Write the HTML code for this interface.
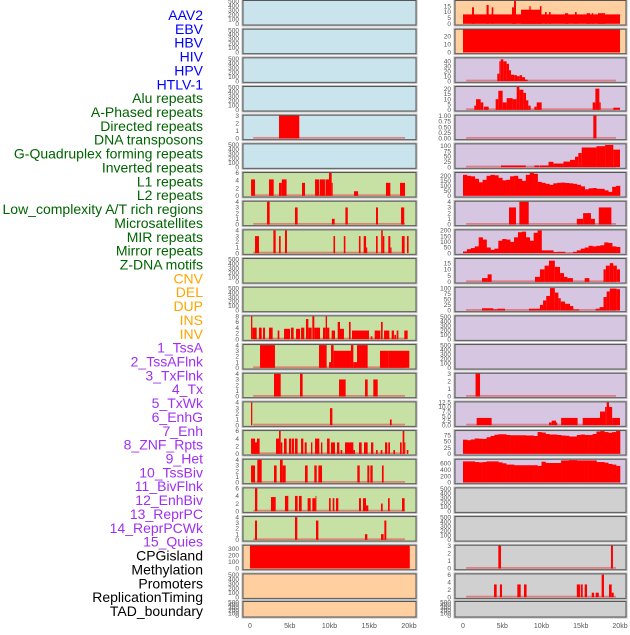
<!DOCTYPE html>
<html><head><meta charset="utf-8">
<style>
html,body{margin:0;padding:0;background:#fff;}
body{width:630px;height:630px;overflow:hidden;font-family:"Liberation Sans",sans-serif;}
svg text{font-family:"Liberation Sans",sans-serif;}
</style></head>
<body>
<svg id="chart" width="630" height="630" viewBox="0 0 630 630" xmlns="http://www.w3.org/2000/svg">
<g id="labels"></g>
<g id="panels"></g>
<g id="xaxes"></g>
</svg>
<script>
// ---- track label data ----
const labelNames = ["AAV2","EBV","HBV","HIV","HPV","HTLV-1","Alu repeats","A-Phased repeats","Directed repeats","DNA transposons","G-Quadruplex forming repeats","Inverted repeats","L1 repeats","L2 repeats","Low_complexity A/T rich regions","Microsatellites","MIR repeats","Mirror repeats","Z-DNA motifs","CNV","DEL","DUP","INS","INV","1_TssA","2_TssAFlnk","3_TxFlnk","4_Tx","5_TxWk","6_EnhG","7_Enh","8_ZNF_Rpts","9_Het","10_TssBiv","11_BivFlnk","12_EnhBiv","13_ReprPC","14_ReprPCWk","15_Quies","CPGisland","Methylation","Promoters","ReplicationTiming","TAD_boundary"];
const labelGroups = ["virus","virus","virus","virus","virus","virus","repeat","repeat","repeat","repeat","repeat","repeat","repeat","repeat","repeat","repeat","repeat","repeat","repeat","sv","sv","sv","sv","sv","state","state","state","state","state","state","state","state","state","state","state","state","state","state","state","other","other","other","other","other"];
const xTickValues = [0,5,10,15,20];
const xTickLabels = ["0","5kb","10kb","15kb","20kb"];

// ---- segment data: [startKb, endKb, value] ----
const L5 = [[3.65,6.2,3]];
const L7 = [[0.13,0.63,4.3],[2.39,2.98,4.3],[3.65,4.0,3.4],[4.0,4.6,4.3],[6.54,6.92,3.4],[8.18,8.72,4.3],[8.8,9.43,4.3],[9.5,9.94,4.3],[9.94,10.27,6],[10.27,10.4,3.4],[13.08,13.6,1.2],[17.1,17.65,3.4],[18.87,19.5,3.4]];
const L8 = [[2.14,2.47,4],[5.66,5.99,3],[10.3,10.65,1],[12.0,12.3,3],[15.85,16.1,3],[19.0,19.4,3]];
const L9 = [[0.63,1.13,3],[2.94,3.23,4],[3.65,3.86,3],[4.4,4.65,4],[10.5,10.7,3],[11.8,12.0,3],[13.7,13.9,3],[14.3,14.6,3],[14.6,14.75,1],[15.85,16.06,3],[16.5,16.7,4],[16.7,16.9,3],[17.4,17.65,3],[17.65,17.8,1],[19.1,19.45,3],[19.75,19.95,3]];
const L12 = [[0.13,0.29,8],[0.29,0.84,4],[1.13,1.47,4],[1.64,1.89,4],[2.39,2.85,4],[3.48,3.69,3],[4.28,5.03,3.6],[5.16,5.49,4],[5.79,6.29,3.6],[6.42,6.83,4],[7.04,7.34,7],[7.34,7.76,4],[7.84,8.09,8],[8.09,8.81,4],[9.18,9.52,4],[9.52,9.69,8],[9.69,9.98,4],[10.27,10.69,3],[11.03,11.32,6],[11.32,11.82,3.6],[12.45,12.66,6],[12.83,14.97,3],[15.18,15.39,1],[15.68,16.39,3],[16.48,16.69,6],[16.86,17.53,3],[17.82,18.11,3],[18.16,18.36,1.5],[18.45,18.66,3],[19.41,19.83,3]];
const L13 = [[1.26,3.14,4],[8.68,9.64,4],[9.94,10.19,1],[10.19,10.52,4],[10.52,12.7,3],[12.7,13.0,4],[13.0,13.46,1],[13.46,14.8,4],[16.35,17.4,3],[17.4,20.04,3]];
const L14 = [[3.02,3.86,4],[6.29,6.62,4],[11.2,12.03,3],[14.47,14.8,3],[15.51,16.06,3]];
const L15 = [[0.13,0.29,4],[10.06,10.36,3],[17.6,17.82,1]];
const L16 = [[0.13,0.63,4],[0.63,0.88,3],[0.88,1.21,4],[3.27,3.65,4],[3.65,3.86,6],[3.86,4.07,3],[4.28,4.61,4],[4.9,5.16,4],[5.24,5.53,4],[5.66,5.99,4],[6.42,6.71,4],[6.88,7.13,3],[7.67,7.84,3],[8.18,8.72,4],[8.93,9.1,3],[9.69,10.02,4],[10.19,10.69,3],[10.94,11.24,3],[11.4,11.61,1],[11.95,13.0,3],[13.0,13.21,1],[13.71,14.05,3],[14.34,14.8,3],[15.22,15.51,3],[15.85,16.06,1],[16.44,16.65,1],[16.98,17.27,3],[17.4,17.61,3],[18.03,18.24,1],[18.87,19.08,3],[19.2,19.41,6],[19.41,19.54,3],[19.71,19.92,1]];
const L17 = [[0.13,0.63,3],[0.92,1.47,4],[3.02,3.35,3],[3.77,4.11,4],[4.11,4.49,3],[6.92,7.25,3],[8.09,8.39,3],[8.6,9.06,3],[13.5,13.8,3],[14.76,15.01,3],[15.14,15.43,3],[16.6,16.81,3]];
const L18 = [[0.63,0.92,6],[2.64,3.23,3.7],[4.4,4.82,4],[5.66,5.99,4],[6.16,6.5,4],[7.25,7.63,3.4],[7.84,8.25,3.4],[8.25,8.35,4],[9.94,10.15,3.4],[10.4,10.61,3.4],[10.82,11.11,3.4],[13.71,13.96,3.4],[14.21,14.59,3.4],[14.59,14.88,1.5],[16.48,16.69,2],[17.36,17.57,3.4],[19.12,19.45,3.4]];
const L19 = [[0.63,0.88,3.4],[5.66,5.95,4],[8.3,8.6,3.4],[14.46,14.76,1],[16.48,16.81,1],[16.9,17.15,3.4]];
const L20 = [[0,20.1,345]];
const R1 = [[0,20,8],[1.15,1.4,14],[3.0,3.27,16],[3.65,3.86,14],[6.24,6.5,14],[6.5,6.75,20],[7.39,10.0,12],[8.45,8.62,15],[9.8,10.0,15],[10.45,10.66,10],[10.96,11.17,10],[13.0,13.4,9],[14.27,14.48,10],[15.75,16.2,9],[16.4,16.6,9],[17.2,18.1,9]];
const R2 = [[0,20,30]];
const R3 = [[4.37,4.63,15],[4.63,4.8,40],[4.8,5.14,44],[5.14,5.56,40],[5.56,5.86,35],[5.86,6.11,22],[6.11,6.54,13],[6.54,6.88,12],[6.88,7.22,10],[7.22,7.52,12],[7.52,7.9,8],[7.9,8.24,3]];
const R4 = [[1.44,1.66,4],[1.66,2.25,10],[2.25,2.59,7],[2.68,3.27,3],[4.16,4.5,10],[4.5,5.05,18],[5.05,5.56,7],[5.56,6.32,11],[6.32,6.84,10],[6.84,7.18,22],[7.18,7.69,19],[7.69,8.03,16],[8.03,8.32,9],[8.32,8.62,4],[9.09,9.39,3],[9.39,10.02,7],[16.52,16.86,7],[16.86,17.37,20],[17.37,17.54,7],[19.15,20.0,2]];
const R5 = [[16.6,17.0,1]];
const R6 = [[4.84,8.0,8],[9.09,9.73,8],[9.8,10.9,8],[10.9,11.52,25],[11.52,12.79,17],[12.79,13.63,26],[13.63,14.27,34],[14.27,14.69,49],[14.69,15.12,66],[15.12,17.0,92],[17.0,18.1,98],[18.1,19.15,104],[19.15,20.0,82]];
const R7 = [0,0.5,210,200,195,170,135,160,200,210,205,180,155,160,195,200,170,150,210,240,220,140,130,120,110,125,130,132,128,125,120,110,95,65,75,78,70,70,55,40,90,100];
const R8 = [[5.86,6.75,3],[7.18,8.37,4],[14.5,15.3,1],[15.3,16.3,2],[16.3,16.8,1],[17.3,18.9,3]];
const R9 = [0,0.5,15,35,45,60,140,120,50,30,40,110,125,120,100,140,185,190,140,110,180,200,25,25,25,10,12,12,5,5,12,25,40,50,65,60,65,70,95,90,60,55];
const R10 = [[2.42,3.14,3],[3.14,3.65,6],[9.17,9.8,4],[9.8,10.4,10],[10.4,10.95,13],[10.95,11.7,17],[11.7,12.36,12],[12.36,12.87,7],[12.87,13.3,4],[13.3,14.0,3],[15.5,16.1,3],[17.9,18.2,10],[18.2,18.7,13],[18.7,19.15,15],[19.15,19.6,13],[19.6,20.0,10]];
const R11 = [[2.42,3.86,10],[3.86,4.37,5],[4.37,5.35,8],[8.4,9.8,8],[9.8,10.2,25],[10.2,10.6,45],[10.6,11.08,65],[11.08,11.7,100],[11.7,12.15,80],[12.15,12.45,55],[12.45,13.0,40],[13.0,13.63,30],[13.63,14.05,20],[14.05,14.8,5],[16.9,17.4,8],[17.4,17.9,15],[17.9,18.3,60],[18.3,18.7,85],[18.7,19.57,98],[19.57,20.0,95]];
const R14 = [[1.6,2.17,3]];
const R15 = [[1.74,3.65,4],[10.96,11.3,1.5],[11.3,11.85,2.5],[11.85,12.0,1.5],[12.5,14.6,4],[15.25,17.45,4],[17.45,18.1,7.5],[18.1,18.3,10],[18.3,18.6,12.5],[18.6,19.0,10],[19.0,20.0,4]];
const R16 = [0,0.5,57,55,58,62,61,60,67,72,77,79,79,76,75,75,75,75,74,74,72,88,86,80,78,78,76,74,73,70,70,76,78,76,76,80,90,92,88,85,88,92];
const R17 = [0,0.5,660,660,660,640,630,640,660,660,660,630,600,560,560,540,540,540,540,540,540,520,650,610,610,610,610,690,690,700,700,690,690,690,690,690,640,640,620,580,560,520];
const R20 = [[4.5,4.84,3],[18.85,19.1,3]];
const R21 = [[3.95,4.29,3.4],[4.7,4.97,3.4],[6.92,7.35,3.4],[7.77,8.1,3.4],[14.5,14.9,3.4],[15.0,15.25,3.4],[15.5,15.8,3.4],[16.4,16.7,1.2],[16.9,17.3,1.2],[17.66,17.96,6],[18.6,18.94,3.4],[18.94,19.2,1.2]];

// ---- y tick sets ----
const ticksEmpty = [0,100,200,300,400,500];
const ticks3 = [0,1,2,3];
const ticks4 = [0,1,2,3,4];
const ticks6 = [0,2,4,6];
const ticks8 = [0,2,4,6,8];

// ---- panel layout (styles/positions, not data) ----
const BG = {blue:"#c9e4ec",green:"#c7e0a4",orange:"#ffcf9f",purple:"#d6c6e2",gray:"#d0d0d0"};
const LBLCOL = {virus:"#0000ff",repeat:"#006400",sv:"#ffa500",state:"#a030f0",other:"#000000"};

// kind: "seg" (segments), "bin" (first two entries: start, binWidth, then values), "none"
const panelDefs = [
 // left column
 {col:0,bg:"blue",kind:"none",ymax:520,ticks:ticksEmpty},
 {col:0,bg:"blue",kind:"none",ymax:520,ticks:ticksEmpty},
 {col:0,bg:"blue",kind:"none",ymax:520,ticks:ticksEmpty},
 {col:0,bg:"blue",kind:"none",ymax:520,ticks:ticksEmpty},
 {col:0,bg:"blue",kind:"seg",data:L5,ymax:3.05,ticks:ticks3,base:true},
 {col:0,bg:"blue",kind:"none",ymax:520,ticks:ticksEmpty},
 {col:0,bg:"green",kind:"seg",data:L7,ymax:6.1,ticks:ticks6,base:true},
 {col:0,bg:"green",kind:"seg",data:L8,ymax:4.1,ticks:ticks4,base:true},
 {col:0,bg:"green",kind:"seg",data:L9,ymax:4.1,ticks:ticks4,base:true},
 {col:0,bg:"green",kind:"none",ymax:520,ticks:ticksEmpty},
 {col:0,bg:"green",kind:"none",ymax:520,ticks:ticksEmpty},
 {col:0,bg:"green",kind:"seg",data:L12,ymax:8.1,ticks:ticks8,base:true},
 {col:0,bg:"green",kind:"seg",data:L13,ymax:4.1,ticks:ticks4,base:true},
 {col:0,bg:"green",kind:"seg",data:L14,ymax:4.1,ticks:ticks4,base:true},
 {col:0,bg:"green",kind:"seg",data:L15,ymax:4.1,ticks:ticks4,base:true},
 {col:0,bg:"green",kind:"seg",data:L16,ymax:6.1,ticks:ticks6,base:true},
 {col:0,bg:"green",kind:"seg",data:L17,ymax:4.1,ticks:ticks4,base:true},
 {col:0,bg:"green",kind:"seg",data:L18,ymax:6.1,ticks:ticks6,base:true},
 {col:0,bg:"green",kind:"seg",data:L19,ymax:4.1,ticks:ticks4,base:true},
 {col:0,bg:"orange",kind:"seg",data:L20,ymax:350,ticks:[0,100,200,300]},
 {col:0,bg:"orange",kind:"none",ymax:520,ticks:ticksEmpty},
 {col:0,bg:"orange",kind:"none",ymax:520,ticks:ticksEmpty},
 // right column
 {col:1,bg:"orange",kind:"seg",data:R1,ymax:19.8,ticks:[0,5,10,15]},
 {col:1,bg:"orange",kind:"seg",data:R2,ymax:29,ticks:[0,10,20]},
 {col:1,bg:"purple",kind:"seg",data:R3,ymax:47,ticks:[0,10,20,30,40],base:true},
 {col:1,bg:"purple",kind:"seg",data:R4,ymax:22,ticks:[0,5,10,15,20],base:true},
 {col:1,bg:"purple",kind:"seg",data:R5,ymax:1.02,ticks:[0,0.25,0.5,0.75,1.0],fmt:2,base:true},
 {col:1,bg:"purple",kind:"seg",data:R6,ymax:109,ticks:[0,25,50,75,100],base:true},
 {col:1,bg:"purple",kind:"bin",data:R7,ymax:233,ticks:[0,50,100,150,200]},
 {col:1,bg:"purple",kind:"seg",data:R8,ymax:4.1,ticks:ticks4,base:true},
 {col:1,bg:"purple",kind:"bin",data:R9,ymax:206,ticks:[0,50,100,150,200]},
 {col:1,bg:"purple",kind:"seg",data:R10,ymax:18.7,ticks:[0,5,10,15],base:true},
 {col:1,bg:"purple",kind:"seg",data:R11,ymax:104,ticks:[0,25,50,75,100],base:true},
 {col:1,bg:"purple",kind:"none",ymax:520,ticks:ticksEmpty},
 {col:1,bg:"purple",kind:"none",ymax:520,ticks:ticksEmpty},
 {col:1,bg:"purple",kind:"seg",data:R14,ymax:3.05,ticks:ticks3,base:true},
 {col:1,bg:"purple",kind:"seg",data:R15,ymax:12.8,ticks:[0,2.5,5,7.5,10,12.5],fmt:1,base:true},
 {col:1,bg:"purple",kind:"bin",data:R16,ymax:94,ticks:[0,25,50,75]},
 {col:1,bg:"purple",kind:"bin",data:R17,ymax:728,ticks:[0,200,400,600]},
 {col:1,bg:"gray",kind:"none",ymax:520,ticks:ticksEmpty},
 {col:1,bg:"gray",kind:"none",ymax:520,ticks:ticksEmpty},
 {col:1,bg:"gray",kind:"seg",data:R20,ymax:3.05,ticks:ticks3,base:true},
 {col:1,bg:"gray",kind:"seg",data:R21,ymax:6.2,ticks:ticks6,base:true},
 {col:1,bg:"gray",kind:"none",ymax:520,ticks:ticksEmpty}
];

const NS = "http://www.w3.org/2000/svg";
function mk(tag, attrs, parent){
  const e = document.createElementNS(NS, tag);
  for (const k in attrs) e.setAttribute(k, attrs[k]);
  parent.appendChild(e);
  return e;
}
const COLX = [{x0:243,x1:416,zero:250,kbpx:7.95},{x0:455,x1:626,zero:463,kbpx:7.85}];
function rowTop(i){ return i===21 ? 601.5 : 0.5 + i*28.67; }
function rowH(i){ return i===21 ? 15.5 : 24.5; }

// labels
const lg = document.getElementById("labels");
labelNames.forEach((name, i) => {
  const t = mk("text", {x:203, y:15 + i*13.86 + 5, "text-anchor":"end", "font-size":"14", fill:LBLCOL[labelGroups[i]]}, lg);
  
  
  t.textContent = name;
});

// panels
const pg = document.getElementById("panels");
panelDefs.forEach((p, idx) => {
  const row = idx % 22;
  const c = COLX[p.col];
  const top = rowTop(row), h = rowH(row);
  const y0 = top + h - 1.2;
  const ys = v => y0 - (v / p.ymax) * (h - 1.2);
  const xs = kb => c.zero + kb * c.kbpx;
  const g = mk("g", {}, pg);
  
  
  const clipId = "clip" + idx;
  const cp = mk("clipPath", {id:clipId}, g);
  mk("rect", {x:c.x0, y:top, width:c.x1-c.x0, height:h}, cp);
  mk("rect", {x:c.x0-1, y:top-1, width:c.x1-c.x0+2, height:h+2, fill:"none", stroke:"#bbb", "stroke-width":1}, g);
  const bg = mk("rect", {x:c.x0, y:top, width:c.x1-c.x0, height:h, fill:BG[p.bg]}, g);
  
  
  const mg = mk("g", {"clip-path":"url(#"+clipId+")"}, g);
  if (p.base) {
    const bl = mk("rect", {x:xs(0.4), y:y0-1.5, width:xs(19.5)-xs(0.4), height:1.8, fill:"#e06060", opacity:0.7}, mg);
    
    
  }
  if (p.kind === "seg") {
    p.data.forEach(s => {
      const r = mk("rect", {x:xs(s[0]), y:ys(s[2]), width:Math.max(0.8, xs(s[1])-xs(s[0])), height:y0-ys(s[2]), fill:"#ff0000"}, mg);
      
      
    });
  } else if (p.kind === "bin") {
    const start = p.data[0], w = p.data[1];
    for (let k = 2; k < p.data.length; k++) {
      const a = start + (k-2)*w, v = p.data[k];
      const r = mk("rect", {x:xs(a), y:ys(v), width:xs(a+w)-xs(a)+0.3, height:y0-ys(v), fill:"#ff0000"}, mg);
      
      
    }
  }
  mk("rect", {x:c.x0, y:top, width:c.x1-c.x0, height:h, fill:"none", stroke:"#555", "stroke-width":1}, g);
  // y ticks
  p.ticks.forEach(tv => {
    const lab = p.fmt ? tv.toFixed(p.fmt) : String(tv);
    const t = mk("text", {x:c.x0-4, y:ys(tv)+2.2, "text-anchor":"end", "font-size":"6.5", fill:"#555"}, g);
    
    
    t.textContent = lab;
  });
});

// x axes
const xg = document.getElementById("xaxes");
COLX.forEach(c => {
  xTickValues.forEach((v, i) => {
    const t = mk("text", {x:c.zero + v*c.kbpx, y:628, "text-anchor":"middle", "font-size":"7", fill:"#555"}, xg);
    
    
    t.textContent = xTickLabels[i];
  });
});
</script>
</body></html>
